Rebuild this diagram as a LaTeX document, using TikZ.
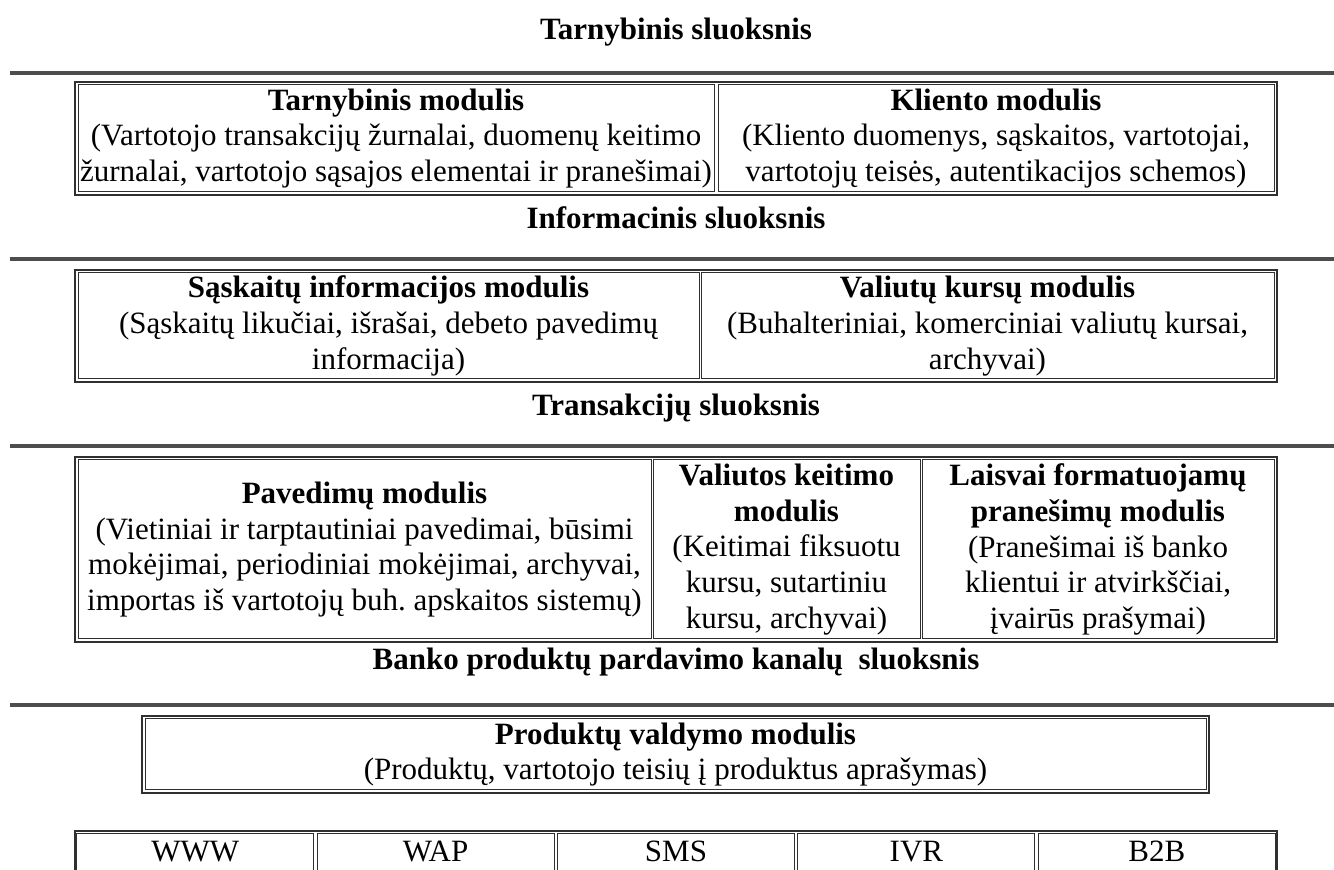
\documentclass[tikz,border=0pt]{standalone}
\usepackage{fontspec}
\setmainfont{Liberation Serif}
\frenchspacing
\definecolor{rulegray}{HTML}{4D4D4D}
\definecolor{framegray}{HTML}{303030}
\tikzstyle{cell}=[draw=framegray,line width=0.5pt,inner sep=0pt,align=center,font=\fontsize{15.5pt}{17.85pt}\selectfont]
\tikzstyle{chancell}=[cell,minimum width=118.5pt,minimum height=20pt,text height=10.5pt,text depth=3pt]
\tikzstyle{layertitle}=[inner sep=0pt,anchor=base,font=\fontsize{15.5pt}{17.85pt}\selectfont\bfseries]
\tikzstyle{frame}=[draw=framegray,line width=1pt]
\tikzstyle{layerline}=[draw=rulegray,line width=2pt]

\begin{document}
\begin{tikzpicture}[x=0.5pt,y=-0.5pt]
\useasboundingbox (0,0) rectangle (1334,870);
\clip (0,0) rectangle (1334,870);

% layer titles
\node[layertitle] (tarnsl) at (676,40) {Tarnybinis sluoksnis};
\node[layertitle] (infsl) at (676,229) {Informacinis sluoksnis};
\node[layertitle] (transl) at (676,416) {Transakcijų sluoksnis};
\node[layertitle] (kansl) at (676,670) {Banko produktų pardavimo kanalų\ \ sluoksnis};

% layer rules
\draw[layerline] (10,73) -- (1334,73);
\draw[layerline] (10,259) -- (1334,259);
\draw[layerline] (10,446) -- (1334,446);
\draw[layerline] (10,705) -- (1334,705);

% service layer
\draw[frame] (75,82) rectangle (1277,195);
\node[cell,minimum width=318pt,minimum height=53.5pt] (tarnmod) at (396,138.5)
  {\textbf{Tarnybinis modulis}\\(Vartotojo transakcijų žurnalai, duomenų keitimo\\žurnalai, vartotojo sąsajos elementai ir pranešimai)};
\node[cell,minimum width=278pt,minimum height=53.5pt] (klmod) at (996,138.5)
  {\textbf{Kliento modulis}\\(Kliento duomenys, sąskaitos, vartotojai,\\vartotojų teisės, autentikacijos schemos)};

% information layer
\draw[frame] (75,270) rectangle (1277,382);
\node[cell,minimum width=310.5pt,minimum height=53pt] (saskmod) at (388.5,326)
  {\textbf{Sąskaitų informacijos modulis}\\(Sąskaitų likučiai, išrašai, debeto pavedimų\\informacija)};
\node[cell,minimum width=286.5pt,minimum height=53pt] (kursmod) at (987.5,326)
  {\textbf{Valiutų kursų modulis}\\(Buhalteriniai, komerciniai valiutų kursai,\\archyvai)};

% transaction layer
\draw[frame] (75,457) rectangle (1277,642);
\node[cell,minimum width=286.5pt,minimum height=89.5pt] (pavmod) at (364.5,549.5)
  {\textbf{Pavedimų modulis}\\(Vietiniai ir tarptautiniai pavedimai, būsimi\\mokėjimai, periodiniai mokėjimai, archyvai,\\importas iš vartotojų buh. apskaitos sistemų)};
\node[cell,minimum width=133.5pt,minimum height=89.5pt] (keitmod) at (786.5,549.5)
  {\textbf{Valiutos keitimo}\\\textbf{modulis}\\(Keitimai fiksuotu\\kursu, sutartiniu\\kursu, archyvai)};
\node[cell,minimum width=176pt,minimum height=89.5pt] (pranmod) at (1098,549.5)
  {\textbf{Laisvai formatuojamų}\\\textbf{pranešimų modulis}\\(Pranešimai iš banko\\klientui ir atvirkščiai,\\įvairūs prašymai)};

% channel layer
\draw[frame] (142,716) rectangle (1209,793);
\node[cell,minimum width=530.5pt,minimum height=35.5pt] (prodmod) at (675.5,754.5)
  {\textbf{Produktų valdymo modulis}\\(Produktų, vartotojo teisių į produktus aprašymas)};

\draw[frame] (75,880) |- (1277,831) -- (1277,880);
\node[chancell] (www) at (195.2,854) {WWW};
\node[chancell] (wap) at (435.6,854) {WAP};
\node[chancell] (sms) at (676,854) {SMS};
\node[chancell] (ivr) at (916.4,854) {IVR};
\node[chancell] (btb) at (1156.8,854) {B2B};
\end{tikzpicture}
\end{document}
